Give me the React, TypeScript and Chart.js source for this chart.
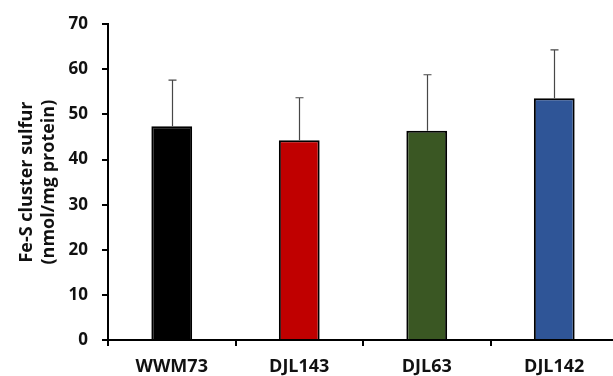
import React, { useEffect, useRef } from "react";
import { Chart, registerables } from "chart.js";

Chart.register(...registerables);

const categories = ["WWM73", "DJL143", "DJL63", "DJL142"];
const means = [47.4, 44.3, 46.4, 53.6];
const errors = [10.2, 9.4, 12.4, 10.7];
const barColors = ["#000000", "#C00000", "#3A5723", "#2F5597"];
const yTitle = ["Fe-S cluster sulfur", "(nmol/mg protein)"];

const FONT = "'Open Sans', Lato, sans-serif";

const errorBarPlugin = {
  id: "errorBars",
  afterDatasetsDraw(chart: any) {
    const ctx = chart.ctx;
    const meta = chart.getDatasetMeta(0);
    const y = chart.scales.y;
    ctx.save();
    ctx.strokeStyle = "#474747";
    ctx.lineWidth = 1.2;
    meta.data.forEach((bar: any, i: number) => {
      const x = Math.round(bar.x) + 0.5;
      const yTop = y.getPixelForValue(means[i] + errors[i]);
      const yBar = y.getPixelForValue(means[i]);
      ctx.beginPath();
      ctx.moveTo(x, yBar);
      ctx.lineTo(x, yTop);
      ctx.moveTo(x - 4, yTop);
      ctx.lineTo(x + 4, yTop);
      ctx.stroke();
    });
    ctx.restore();
  },
};

export default function App() {
  const ref = useRef<HTMLCanvasElement>(null);
  useEffect(() => {
    if (!ref.current) return;
    const chart = new Chart(ref.current, {
      type: "bar",
      data: {
        labels: categories,
        datasets: [
          {
            data: means,
            backgroundColor: barColors,
            borderColor: "#000000",
            borderWidth: 2,
            barPercentage: 0.32,
            categoryPercentage: 1,
          },
        ],
      },
      options: {
        animation: false,
        responsive: false,
        maintainAspectRatio: false,
        layout: { padding: { top: 24, right: 7, left: 0, bottom: 0 } },
        plugins: {
          legend: { display: false },
          tooltip: { enabled: false },
        },
        scales: {
          x: {
            offset: true,
            grid: {
              offset: true,
              drawOnChartArea: false,
              drawTicks: true,
              tickLength: 6,
              color: "#000000",
              lineWidth: 2,
            },
            border: { display: true, color: "#000000", width: 2 },
            ticks: {
              color: "#111111",
              padding: 10,
              font: { family: FONT, size: 18, weight: "bold" },
            },
            afterFit(scale: any) {
              scale.height = 36;
            },
          },
          y: {
            min: 0,
            max: 70,
            ticks: {
              stepSize: 10,
              color: "#111111",
              padding: 14,
              font: { family: FONT, size: 17, weight: "bold" },
            },
            grid: {
              drawOnChartArea: false,
              drawTicks: true,
              tickLength: 6,
              color: "#000000",
              lineWidth: 2,
            },
            border: { display: true, color: "#000000", width: 2 },
            title: {
              display: true,
              text: yTitle,
              color: "#111111",
              font: { family: FONT, size: 18, weight: "bold", lineHeight: 1.2 },
              padding: { top: 16, bottom: 0 },
            },
            afterFit(scale: any) {
              scale.width = 108;
            },
          },
        },
      },
      plugins: [errorBarPlugin],
    });
    return () => chart.destroy();
  }, []);
  return (
    <div
      style={{
        position: "fixed",
        left: 0,
        top: 0,
        width: 613,
        height: 376,
        overflow: "hidden",
        background: "#ffffff",
      }}
    >
      <canvas ref={ref} width={625} height={376} style={{ display: "block" }} />
    </div>
  );
}
